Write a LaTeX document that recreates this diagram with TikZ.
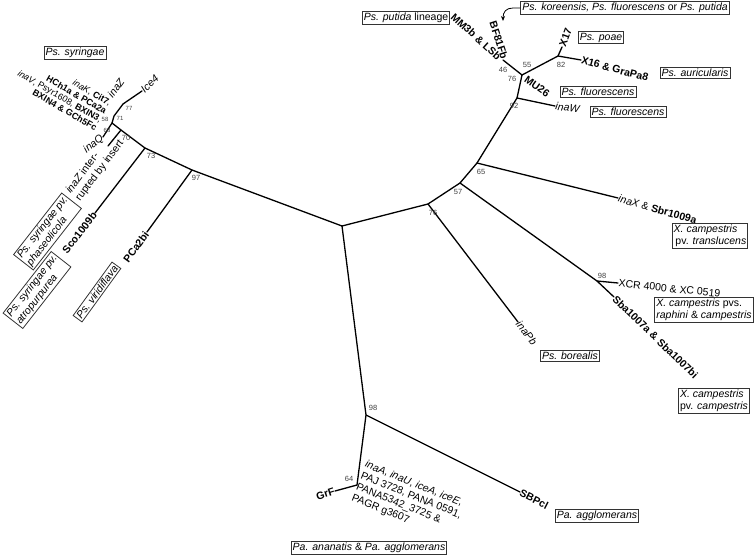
\documentclass[tikz,border=0pt]{standalone}
\usepackage{fontspec}
\setmainfont{Liberation Sans}
\usetikzlibrary{arrows.meta}
\begin{document}
\begin{tikzpicture}[x=1pt,y=-1pt,
  br/.style={line width=1.3pt, line cap=round},
  lab/.style={font=\fontsize{10.5}{12}\selectfont, inner sep=0.5pt},
  bs/.style={font=\fontsize{7.5}{8}\selectfont, text=black!75, inner sep=0.5pt},
  bss/.style={font=\fontsize{6}{6}\selectfont, text=black!75, inner sep=0.3pt},
  box/.style={draw=black!80, line width=0.8pt, fill=white, inner sep=1.6pt, font=\fontsize{10.5}{12}\selectfont, align=left},
]
\useasboundingbox (0,0) rectangle (754,555);
% tree points
\coordinate (C) at (342,226);
\coordinate (N97) at (192,170);
\coordinate (N73) at (145,148);
\coordinate (N70) at (121,130);
\coordinate (J) at (112,123);
\coordinate (N71) at (114,116);
\coordinate (N77) at (123,104);
\coordinate (tIce) at (142,91);
\coordinate (tinaQ) at (103,137);
\coordinate (t70) at (108,146);
\coordinate (tSco) at (95,213);
\coordinate (tPCa) at (147,232);
\coordinate (N76) at (428,204);
\coordinate (N57) at (460,183);
\coordinate (N65) at (477,163);
\coordinate (N92) at (517,98);
\coordinate (T) at (522,75);
\coordinate (tBF) at (503,60);
\coordinate (N82) at (558,56);
\coordinate (tX17) at (562,47);
\coordinate (tX16) at (581,60);
\coordinate (tinaW) at (555,106);
\coordinate (tinaX) at (618,198);
\coordinate (N98x) at (597,281);
\coordinate (tXCR) at (618,283);
\coordinate (tSba) at (614,297);
\coordinate (tinaPb) at (518,322);
\coordinate (N98b) at (366,415);
\coordinate (N64) at (357,485);
\coordinate (tGrF) at (335,491);
\coordinate (tSBP) at (520,492);
% branches
\draw[br] (C) -- (N97) -- (N73) -- (N70) -- (J) -- (N71) -- (N77) -- (tIce);
\draw[br] (J) -- (tinaQ);
\draw[br] (N70) -- (t70);
\draw[br] (N73) -- (tSco);
\draw[br] (N97) -- (tPCa);
\draw[br] (C) -- (N76) -- (N57) -- (N65) -- (N92) -- (T) -- (tBF);
\draw[br] (T) -- (N82) -- (tX17);
\draw[br] (N82) -- (tX16);
\draw[br] (N92) -- (tinaW);
\draw[br] (N65) -- (tinaX);
\draw[br] (N57) -- (N98x) -- (tXCR);
\draw[br] (N98x) -- (tSba);
\draw[br] (N76) -- (tinaPb);
\draw[br] (C) -- (N98b) -- (N64) -- (tGrF);
\draw[br] (N98b) -- (tSBP);
% bootstrap values
\node[bss] (b58) at (105,119) {58};
\node[bss] (b68) at (107,130) {68};
\node[bss] (b71) at (120,118) {71};
\node[bss] (b77) at (129,108) {77};
\node[bs] (b70) at (126,138) {70};
\node[bs] (b73) at (151,156) {73};
\node[bs] (b97) at (196,178) {97};
\node[bs] (b76m) at (433,213) {76};
\node[bs] (b57) at (458,192) {57};
\node[bs] (b65) at (481,172) {65};
\node[bs] (b92) at (514,106) {92};
\node[bs] (b46) at (503,70) {46};
\node[bs] (b76t) at (512,79) {76};
\node[bs] (b55) at (527,65) {55};
\node[bs] (b82) at (561,65) {82};
\node[bs] (b98x) at (602,276) {98};
\node[bs] (b98b) at (373,408) {98};
\node[bs] (b64) at (349,479) {64};
% left cluster labels
\node[lab, rotate=43, anchor=west] (lIce) at (tIce) {\textit{Ice4}};
\node[lab, rotate=54] (linaZ) at (116,88) {\textit{inaZ}};
\node[lab, font=\fontsize{9}{9.5}\selectfont, rotate=-30, anchor=east, align=right] (lblock) at (104,116)
  {\textit{inaK}, \textbf{Cit7},\\ \textbf{HCh1a \& PCa2a}\\ \textit{inaV}, Psyr1608, \textbf{BXIN3},\\ \textbf{BXIN4 \& GCh5Fc}};
\node[lab, rotate=38, anchor=east] (linaQ) at (tinaQ) {\textit{inaQ}};
\node[lab, rotate=53, align=left] (lint) at (95,167) {\textit{inaZ} inter-\\rupted by insert};
\node[lab, rotate=52, anchor=east] (lSco) at (tSco) {\textbf{Sco1009b}};
\node[lab, rotate=54, anchor=east] (lPCa) at (tPCa) {\textbf{PCa2bi}};
\node[box] (bsyr) at (75,53) {\textit{Ps. syringae}};
\node[box, rotate=52] (bpha) at (47.5,231.5) {\textit{Ps. syringae pv.}\\\textit{phaseolicola}};
\node[box, rotate=52] (batr) at (37,290) {\textit{Ps. syringae pv.}\\\textit{atropurpurea}};
\node[box, rotate=54] (bvir) at (97,292) {\textit{Ps. viridiflava}};
% top right labels
\node[lab, rotate=-72, anchor=east] (lBF) at (505,59) {\textbf{BF81Fb}};
\node[lab, rotate=-42, anchor=east] (lMM) at (500,58) {\textbf{MM3b \& LSb}};
\node[box] (bput) at (406,17.5) {\textit{Ps. putida} lineage};
\node[box] (bkor) at (625,8) {\textit{Ps. koreensis, Ps. fluorescens} or \textit{Ps. putida}};
\coordinate (arrEnd) at (503,21);
\draw[line width=0.8pt, -{Stealth[length=5pt,width=4pt]}] (bkor.west) -- (513,8) .. controls (506,8) and (503,12) .. (arrEnd);
\node[lab, rotate=70, anchor=west] (lX17) at (tX17) {\textbf{X17}};
\node[box] (bpoae) at (601,37.5) {\textit{Ps. poae}};
\node[lab, rotate=-15, anchor=west] (lX16) at (tX16) {\textbf{X16 \& GraPa8}};
\node[box] (baur) at (695,73) {\textit{Ps. auricularis}};
\node[lab, rotate=-35, anchor=west] (lMU) at (525,78) {\textbf{MU26}};
\node[box] (bflu1) at (598,92) {\textit{Ps. fluorescens}};
\node[lab, rotate=-8, anchor=west] (linaW) at (tinaW) {\textit{inaW}};
\node[box] (bflu2) at (628,112) {\textit{Ps. fluorescens}};
% right labels
\node[lab, rotate=-16, anchor=west] (linaX) at (tinaX) {\textit{inaX} \& \textbf{Sbr1009a}};
\node[box] (btra) at (710,236) {\textit{X. campestris}\\ \,pv. \textit{translucens}};
\node[lab, rotate=-6, anchor=west] (lXCR) at (tXCR) {XCR 4000 \& XC 0519};
\node[box] (braph) at (704,310) {\textit{X. campestris} pvs.\\\textit{raphini} \& \textit{campestris}};
\node[lab, rotate=-44, anchor=west] (lSba) at (tSba) {\textbf{Sba1007a \& Sba1007bi}};
\node[box] (bcam) at (714,401) {\textit{X. campestris}\\pv. \textit{campestris}};
\node[lab, rotate=-52, anchor=west] (linaPb) at (tinaPb) {\textit{inaPb}};
\node[box] (bbor) at (570,356) {\textit{Ps. borealis}};
% bottom labels
\node[lab, rotate=18, anchor=east] (lGrF) at (tGrF) {\textbf{GrF}};
\node[lab, rotate=-22, anchor=north west, align=left] (linaA) at (367,459)
  {\textit{inaA}, \textit{inaU}, \textit{iceA}, \textit{iceE},\\PAJ 3728, PANA 0591,\\PANA5342\_3725 \&\\PAGR g3607};
\node[lab, rotate=-27, anchor=west] (lSBP) at (tSBP) {\textbf{SBPcl}};
\node[box] (bagg) at (597,516) {\textit{Pa. agglomerans}};
\node[box] (bana) at (369,548) {\textit{Pa. ananatis} \& \textit{Pa. agglomerans}};
\end{tikzpicture}
\end{document}
